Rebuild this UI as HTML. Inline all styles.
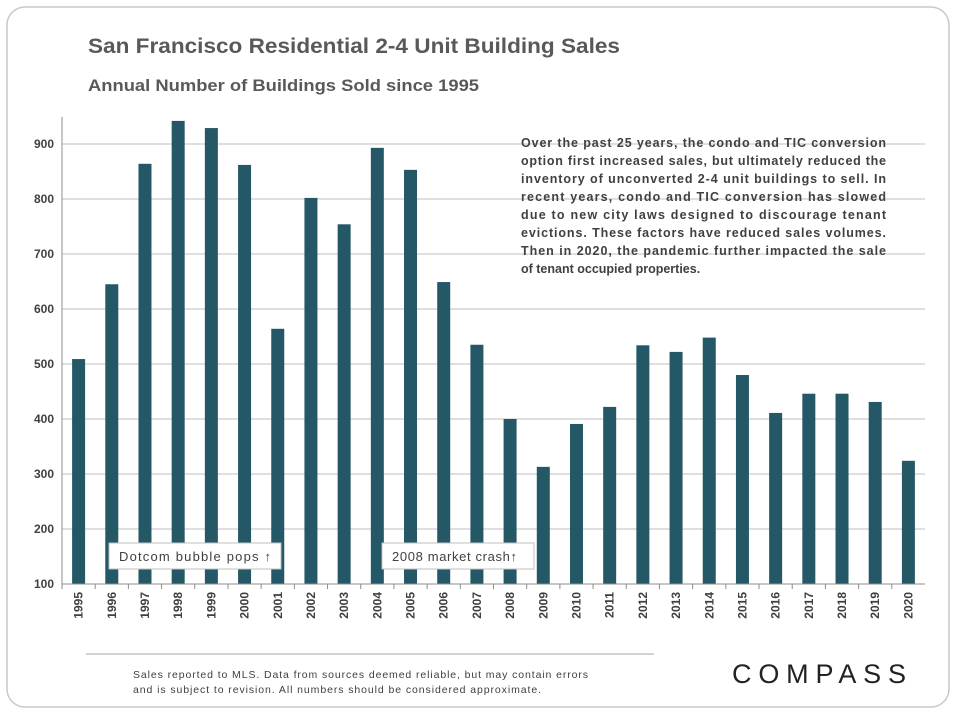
<!DOCTYPE html>
<html><head><meta charset="utf-8"><style>
body{margin:0;width:958px;height:716px;background:#fff;font-family:"Liberation Sans",sans-serif;overflow:hidden}
</style></head><body>
<svg width="958" height="716" xmlns="http://www.w3.org/2000/svg" font-family="Liberation Sans, sans-serif">
<rect x="7" y="7" width="942" height="700" rx="18" fill="#fff" stroke="#c8c8c8" stroke-width="1.5"/>
<text x="88" y="53" font-size="21" font-weight="bold" fill="#595959" textLength="532" lengthAdjust="spacingAndGlyphs">San Francisco Residential 2-4 Unit Building Sales</text>
<text x="88" y="91" font-size="17" font-weight="bold" fill="#595959" textLength="391" lengthAdjust="spacingAndGlyphs">Annual Number of Buildings Sold since 1995</text>
<g id="grid"></g>
<g id="bars"></g>
<g id="axes"></g>
<g font-size="12.5" font-weight="bold" fill="#404040">
<text x="521" y="147" textLength="365">Over the past 25 years, the condo and TIC conversion</text>
<text x="521" y="165" textLength="365">option first increased sales, but ultimately reduced the</text>
<text x="521" y="183" textLength="365">inventory of unconverted 2-4 unit buildings to sell. In</text>
<text x="521" y="201" textLength="365">recent years, condo and TIC conversion has slowed</text>
<text x="521" y="219" textLength="365">due to new city laws designed to discourage tenant</text>
<text x="521" y="237" textLength="365">evictions. These factors have reduced sales volumes.</text>
<text x="521" y="255" textLength="365">Then in 2020, the pandemic further impacted the sale</text>
<text x="521" y="273">of tenant occupied properties.</text>
</g>
<g>
<rect x="109" y="543" width="172" height="26" fill="#fff" stroke="#bfbfbf"/>
<text x="119" y="561" font-size="13" fill="#404040" textLength="152">Dotcom bubble pops ↑</text>
</g>
<g>
<rect x="382" y="543" width="152" height="26" fill="#fff" stroke="#bfbfbf"/>
<text x="392" y="561" font-size="13" fill="#404040" textLength="125">2008  market crash↑</text>
</g>
<line x1="86" y1="654" x2="654" y2="654" stroke="#a6a6a6" stroke-width="1"/>
<g font-size="10.5" fill="#404040">
<text x="133" y="678" textLength="455">Sales reported to MLS. Data from sources deemed reliable, but may contain errors</text>
<text x="133" y="693" textLength="408">and is subject to revision. All numbers should be considered approximate.</text>
</g>
<text x="732" y="683" font-size="27" fill="#222" textLength="174">COMPASS</text>
</svg>
<script>
const years=["1995","1996","1997","1998","1999","2000","2001","2002","2003","2004","2005","2006","2007","2008","2009","2010","2011","2012","2013","2014","2015","2016","2017","2018","2019","2020"];
const sales=[509,645,864,942,929,862,564,802,754,893,853,649,535,400,313,391,422,534,522,548,480,411,446,446,431,324];
const yTicks=[100,200,300,400,500,600,700,800,900];
const NS="http://www.w3.org/2000/svg";
const X0=62,X1=925,Y100=584,PX=0.55;
const bw=(X1-X0)/years.length;
function y(v){return Y100-(v-100)*PX;}
function xc(i){return X0+bw*(i+0.5);}
function mk(t,a,p){const e=document.createElementNS(NS,t);for(const k in a)e.setAttribute(k,a[k]);p.appendChild(e);return e;}
const g=document.getElementById('grid'),b=document.getElementById('bars'),ax=document.getElementById('axes');
yTicks.forEach(v=>{
 if(v>100){const l=mk('line',{x1:X0,x2:X1,y1:y(v),y2:y(v),stroke:'#bfbfbf','stroke-width':1},g);
 
 }
 const t=mk('text',{x:X0-8,y:y(v)+4,'text-anchor':'end','font-size':12,'font-weight':'bold',fill:'#404040'},ax);
 t.textContent=v;
 
 
});
sales.forEach((v,i)=>{
 const r=mk('rect',{x:xc(i)-6.5,y:y(v),width:13,height:Y100-y(v),fill:'#255866'},b);
 
 
});
mk('line',{x1:X0,x2:X0,y1:117,y2:Y100,stroke:'#8c8c8c'},ax);
mk('line',{x1:X0,x2:X1,y1:Y100,y2:Y100,stroke:'#8c8c8c'},ax);
years.forEach((yr,i)=>{
 mk('line',{x1:X0+bw*i,x2:X0+bw*i,y1:Y100,y2:Y100+5,stroke:'#8c8c8c'},ax);
 const t=mk('text',{x:0,y:0,transform:`translate(${xc(i)+4},${Y100+8}) rotate(-90)`,'text-anchor':'end','font-size':12,'font-weight':'bold',fill:'#404040'},ax);
 t.textContent=yr;
 
 
});
</script>
</body></html>
